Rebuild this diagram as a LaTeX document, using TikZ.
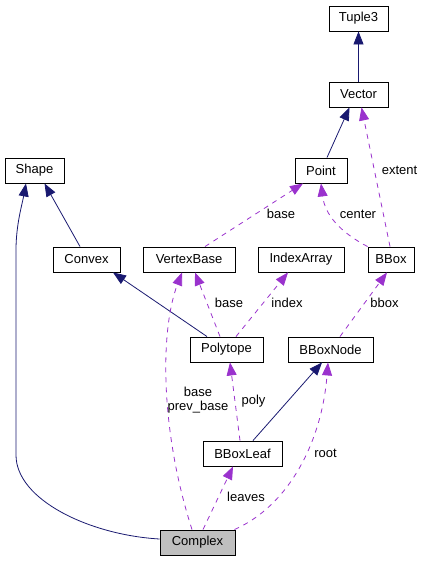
\documentclass[tikz,border=0pt]{standalone}
\usepackage{fontspec}
\setmainfont{Liberation Sans}
\usetikzlibrary{arrows.meta}
\definecolor{navy}{HTML}{191970}
\definecolor{orchid}{HTML}{9A32CD}
\definecolor{current}{HTML}{BFBFBF}

\begin{document}
\begin{tikzpicture}[x=1pt, y=-1pt, thick]

		\tikzstyle{cls}=[rectangle, draw=black, line width=0.9pt, fill=white, text=black, minimum height=25pt, inner sep=0pt, font=\fontsize{13}{14.5}\selectfont]
		\tikzstyle{inherit}=[-{Triangle[length=13pt,width=10pt]}, draw=navy, line width=0.8pt]
		\tikzstyle{uses}=[-{Triangle[length=13pt,width=10pt]}, draw=orchid, line width=0.8pt, dash pattern=on 5pt off 5pt]
		\tikzstyle{lbl}=[inner sep=0pt, text=black, align=center, font=\fontsize{13}{14.5}\selectfont]
		\useasboundingbox (0,0) rectangle (429,561);

		% classes
		\node[cls, minimum width=59pt] (tuple3) at (358.5,18.5) {Tuple3};
		\node[cls, minimum width=59pt] (vector) at (358.5,94.5) {Vector};
		\node[cls, minimum width=52pt] (point) at (321,170.5) {Point};
		\node[cls, minimum width=59pt] (shape) at (34.5,170.5) {Shape};
		\node[cls, minimum width=67pt] (convex) at (86.5,259.5) {Convex};
		\node[cls, minimum width=92pt] (vertexbase) at (189,259.5) {VertexBase};
		\node[cls, minimum width=86pt] (indexarray) at (301,259.5) {IndexArray};
		\node[cls, minimum width=46pt] (bbox) at (391,259.5) {BBox};
		\node[cls, minimum width=73pt] (polytope) at (226.5,349.5) {Polytope};
		\node[cls, minimum width=85pt] (bboxnode) at (330.5,349.5) {BBoxNode};
		\node[cls, minimum width=79pt] (bboxleaf) at (242.5,453.5) {BBoxLeaf};
		\node[cls, minimum width=75pt, fill=current] (complex) at (197.5,542.5) {Complex};

		% inheritance
		\draw[inherit] (vector) -- (tuple3);
		\draw[inherit] ([xshift=6pt]point.north) -- ([xshift=-9pt]vector.south);
		\draw[inherit] ([xshift=-6.5pt]convex.north) -- ([xshift=10pt]shape.south);
		\draw[inherit] ([xshift=-19.5pt]polytope.north) -- ([xshift=26.5pt]convex.south);
		\draw[inherit] ([xshift=10.5pt]bboxleaf.north) -- ([xshift=-8.5pt]bboxnode.south);
		\draw[inherit] ([yshift=3.5pt]complex.west) .. controls (90,535) and (16,500) .. (16,455)
			-- (16,250) .. controls (16,225) and (22,205) .. ([xshift=-8.5pt]shape.south);

		% usage
		\draw[uses] ([xshift=-1pt]bbox.north) -- ([xshift=3pt]vector.south);
		\draw[uses] ([xshift=16pt]vertexbase.north) -- ([xshift=-18pt]point.south);
		\draw[uses] (bbox.north west) .. controls (340,232) and (325,215) .. (point.south);
		\draw[uses] ([xshift=-6.5pt]polytope.north) -- ([xshift=6pt]vertexbase.south);
		\draw[uses] ([xshift=9.5pt]polytope.north) -- ([xshift=-13pt]indexarray.south);
		\draw[uses] ([xshift=9.5pt]bboxnode.north) -- ([xshift=-4pt]bbox.south);
		\draw[uses] ([xshift=-2.5pt]bboxleaf.north) -- ([xshift=3.5pt]polytope.south);
		\draw[uses] ([xshift=5.5pt]complex.north) -- ([xshift=-9.5pt]bboxleaf.south);
		\draw[uses] ([xshift=-1pt]complex.north east) .. controls (290,505) and (322,440) .. ([xshift=-2.5pt]bboxnode.south);
		\draw[uses] ([xshift=-5.5pt]complex.north) .. controls (160,430) and (160,330) .. ([xshift=-7pt]vertexbase.south);

		% labels
		\node[lbl] (l-extent) at (399.5,170) {extent};
		\node[lbl] (l-base1) at (281,214) {base};
		\node[lbl] (l-center) at (358,214) {center};
		\node[lbl] (l-base2) at (229,303) {base};
		\node[lbl] (l-index) at (287,303) {index};
		\node[lbl] (l-bbox) at (384.5,303) {bbox};
		\node[lbl] (l-prev) at (198,400) {base\\prev\_base};
		\node[lbl] (l-poly) at (253.5,401) {poly};
		\node[lbl] (l-root) at (325.5,453) {root};
		\node[lbl] (l-leaves) at (246,497) {leaves};

\end{tikzpicture}
\end{document}
